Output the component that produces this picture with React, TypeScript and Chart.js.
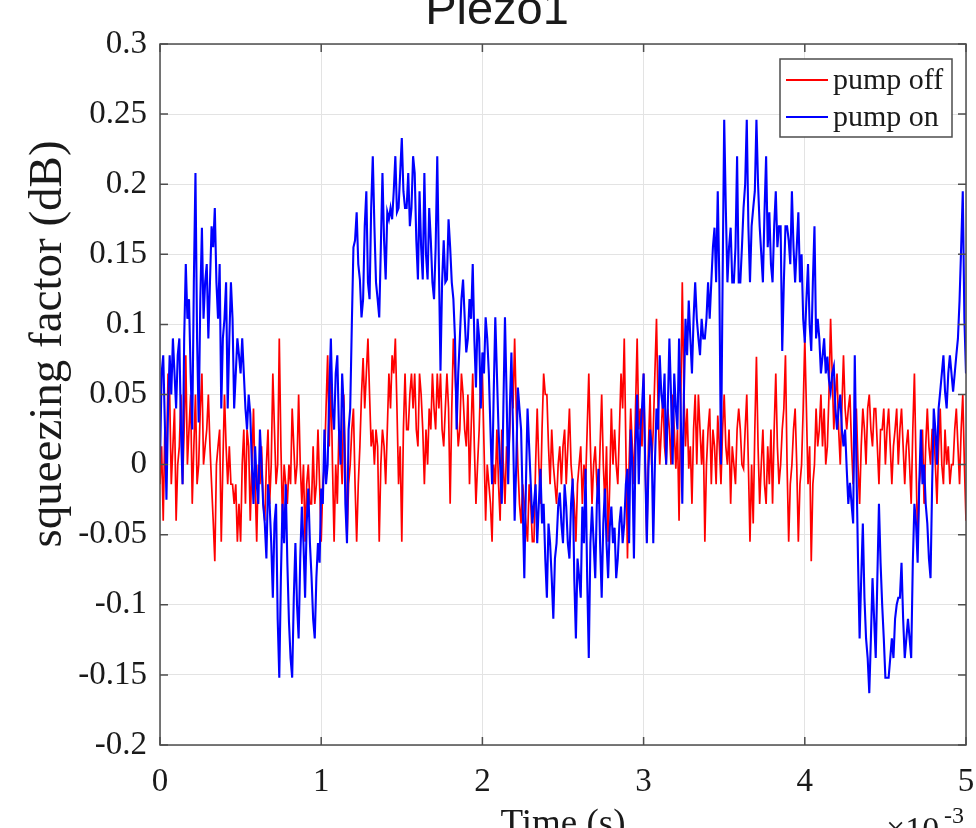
import React, { useEffect, useRef } from "react";
import { Chart, registerables } from "chart.js";

Chart.register(...registerables);

// ---- data (time in units of 10^-3 s, sampled every 0.01) ----
const T_START = 0;
const T_END = 5;
const X_TICKS = [0, 1, 2, 3, 4, 5];
const X_TICK_LABELS = ["0", "1", "2", "3", "4", "5"];
const Y_TICKS = [-0.2, -0.15, -0.1, -0.05, 0, 0.05, 0.1, 0.15, 0.2, 0.25, 0.3];
const Y_TICK_LABELS = ["-0.2", "-0.15", "-0.1", "-0.05", "0", "0.05", "0.1", "0.15", "0.2", "0.25", "0.3"];
const SERIES_LABELS = ["pump off", "pump on"];
const SERIES_COLORS = ["#ff0000", "#0000ff"];
const TITLE = "Piezo1";
const X_LABEL = "Time (s)";
const Y_LABEL = "squeezing factor (dB)";

const PUMP_OFF = [
  -0.014, 0.013, -0.04, 0.025, 0.0, 0.065, 0.05, -0.014, 0.013, 0.04, -0.04, 0.0, 0.013, 0.05, -0.014, 0.025, 0.078, 0.0, 0.025, 0.05,
  -0.028, 0.013, 0.05, -0.014, 0.0, 0.04, 0.065, 0.0, 0.013, 0.025, 0.05, 0.013, -0.014, -0.04, -0.069, 0.0, 0.013, 0.025, -0.055, 0.0,
  0.05, 0.013, -0.014, 0.013, -0.014, -0.014, -0.028, -0.014, -0.055, -0.028, -0.055, 0.0, 0.025, -0.028, 0.025, 0.013, -0.04, 0.0, 0.04, -0.014,
  -0.055, 0.0, -0.014, 0.013, -0.028, -0.04, 0.0, 0.025, -0.028, 0.0, 0.065, 0.025, -0.014, 0.0, 0.09, 0.013, -0.04, 0.0, -0.014, -0.028,
  0.0, -0.014, 0.04, 0.013, -0.014, 0.0, 0.05, 0.0, -0.028, 0.0, -0.055, -0.014, 0.0, -0.028, -0.028, 0.013, -0.028, -0.014, 0.025, -0.014,
  -0.055, -0.014, 0.0, 0.04, 0.078, 0.013, 0.065, 0.0, -0.055, 0.0, -0.028, 0.025, 0.013, -0.014, 0.05, 0.0, -0.055, -0.014, 0.0, 0.025,
  0.04, -0.014, -0.055, -0.014, 0.013, 0.05, 0.076, 0.04, 0.065, 0.09, 0.05, 0.013, 0.025, 0.0, 0.025, 0.013, -0.055, 0.0, 0.025, 0.013,
  -0.014, 0.025, 0.065, 0.04, 0.078, 0.065, 0.09, 0.04, -0.014, 0.013, -0.055, 0.025, 0.065, 0.025, 0.025, 0.05, 0.065, 0.04, 0.065, 0.025,
  0.013, 0.065, 0.05, 0.025, -0.014, 0.025, 0.0, 0.04, 0.025, 0.065, 0.04, 0.025, 0.065, 0.04, 0.065, 0.025, 0.013, 0.04, 0.065, 0.04,
  -0.028, 0.04, 0.09, 0.065, 0.04, 0.013, 0.025, 0.065, 0.05, 0.025, 0.013, 0.05, -0.014, 0.025, 0.065, 0.013, -0.028, 0.0, 0.025, 0.065,
  0.065, 0.013, -0.04, 0.0, -0.014, -0.028, -0.055, 0.0, -0.014, 0.025, -0.014, -0.04, 0.025, 0.0, -0.028, 0.013, 0.0, 0.025, 0.065, 0.04,
  0.09, 0.04, 0.0, -0.028, -0.042, -0.014, -0.028, -0.042, -0.055, -0.014, -0.028, -0.055, -0.055, 0.0, 0.04, 0.0, -0.028, 0.025, 0.065, 0.05,
  0.05, 0.013, -0.014, 0.025, 0.0, -0.014, -0.028, 0.0, 0.013, -0.014, 0.013, 0.025, -0.014, 0.013, 0.04, 0.0, -0.014, -0.028, -0.055, -0.014,
  0.0, 0.013, -0.028, 0.0, -0.014, 0.025, 0.065, 0.013, -0.028, 0.0, 0.013, -0.014, -0.028, 0.013, 0.05, 0.0, -0.028, 0.013, -0.055, -0.014,
  0.04, 0.0, 0.025, 0.0, -0.014, 0.025, 0.065, 0.04, 0.09, 0.013, -0.067, 0.0, 0.04, 0.013, -0.014, 0.04, 0.09, 0.025, 0.04, 0.013,
  0.065, 0.0, -0.055, 0.013, 0.05, 0.0, 0.025, 0.065, 0.104, 0.04, 0.0, 0.025, 0.05, 0.013, 0.0, 0.04, 0.025, 0.0, 0.05, 0.025,
  -0.003, 0.025, -0.04, 0.04, 0.13, 0.05, 0.013, 0.04, -0.003, 0.013, -0.028, 0.025, 0.05, 0.0, 0.05, 0.025, 0.0, 0.025, -0.055, 0.0,
  0.025, 0.04, -0.014, 0.025, 0.013, -0.014, 0.035, 0.013, -0.014, 0.025, 0.05, 0.013, 0.0, 0.025, -0.028, 0.013, 0.0, -0.014, 0.025, 0.04,
  0.025, 0.0, -0.003, 0.025, 0.05, 0.0, -0.055, 0.0, -0.042, 0.025, 0.077, 0.013, -0.028, 0.0, 0.025, -0.014, -0.028, 0.013, -0.014, 0.025,
  -0.028, 0.025, 0.065, 0.013, -0.014, 0.0, 0.025, 0.04, 0.078, 0.0, -0.055, -0.014, 0.0, 0.025, 0.04, 0.0, -0.055, -0.014, 0.0, 0.04,
  0.09, 0.04, -0.014, 0.013, -0.069, -0.014, 0.0, 0.04, 0.013, 0.025, 0.05, 0.013, 0.04, 0.0, 0.013, 0.05, 0.104, 0.065, 0.025, 0.05,
  0.065, 0.025, 0.0, 0.04, 0.078, 0.04, 0.025, 0.04, 0.05, 0.013, -0.014, 0.025, 0.04, 0.0, -0.028, 0.013, 0.04, 0.025, 0.0, 0.04,
  0.05, 0.025, 0.013, 0.04, 0.04, 0.013, -0.014, 0.025, 0.025, 0.04, 0.0, 0.025, 0.04, 0.013, -0.014, 0.013, 0.025, 0.04, 0.0, 0.025,
  0.04, 0.013, -0.014, 0.013, 0.025, 0.0, -0.028, 0.025, 0.065, 0.0, -0.055, -0.014, 0.0, 0.025, -0.028, 0.013, 0.04, 0.013, 0.0, 0.025,
  0.025, 0.0, -0.028, 0.013, 0.04, 0.0, -0.014, 0.025, 0.0, 0.013, -0.014, 0.0, 0.0, 0.025, 0.04, 0.013, -0.014, 0.025, 0.05, 0.0,
  -0.04,
];

const PUMP_ON = [
  0.0, 0.065, 0.078, 0.03, -0.025, 0.04, 0.078, 0.05, 0.09, 0.065, 0.04, 0.078, 0.09, 0.025, -0.014, 0.09, 0.143, 0.104, 0.118, 0.065,
  0.025, 0.13, 0.208, 0.09, 0.03, 0.118, 0.169, 0.104, 0.13, 0.143, 0.09, 0.13, 0.17, 0.155, 0.183, 0.13, 0.104, 0.143, 0.04, 0.09,
  0.104, 0.13, 0.04, 0.09, 0.13, 0.104, 0.04, 0.065, 0.09, 0.078, 0.065, 0.09, 0.065, 0.04, 0.025, 0.05, 0.036, 0.0, -0.028, 0.013,
  -0.014, -0.028, 0.025, 0.0, -0.028, -0.042, -0.067, -0.014, -0.028, -0.056, -0.095, -0.042, -0.028, -0.11, -0.152, -0.08, -0.028, -0.056, -0.014, -0.07,
  -0.112, -0.138, -0.152, -0.095, -0.056, -0.1, -0.124, -0.067, -0.03, -0.056, -0.095, -0.042, -0.017, -0.056, -0.08, -0.11, -0.124, -0.081, -0.056, -0.07,
  -0.017, -0.028, 0.025, -0.014, 0.0, 0.05, 0.09, 0.04, 0.025, 0.065, 0.078, 0.025, 0.0, 0.065, 0.04, -0.028, -0.056, 0.025, 0.04, 0.1,
  0.155, 0.16, 0.18, 0.143, 0.132, 0.105, 0.118, 0.17, 0.195, 0.13, 0.118, 0.183, 0.22, 0.17, 0.13, 0.118, 0.105, 0.155, 0.208, 0.16,
  0.132, 0.18, 0.175, 0.183, 0.175, 0.195, 0.22, 0.18, 0.183, 0.208, 0.233, 0.195, 0.183, 0.183, 0.208, 0.17, 0.183, 0.22, 0.208, 0.16,
  0.132, 0.195, 0.155, 0.132, 0.208, 0.15, 0.132, 0.183, 0.16, 0.13, 0.118, 0.155, 0.22, 0.143, 0.067, 0.13, 0.16, 0.13, 0.132, 0.175,
  0.155, 0.13, 0.118, 0.09, 0.025, 0.065, 0.09, 0.118, 0.132, 0.105, 0.08, 0.09, 0.118, 0.104, 0.143, 0.09, 0.055, 0.104, 0.09, 0.04,
  0.08, 0.065, 0.105, 0.09, 0.065, 0.025, -0.014, 0.05, 0.105, 0.065, 0.025, 0.0, -0.028, 0.04, 0.105, 0.05, -0.014, 0.04, 0.08, 0.025,
  -0.04, 0.0, 0.055, 0.04, 0.025, -0.028, -0.081, -0.014, 0.04, 0.013, -0.014, -0.042, -0.028, -0.014, -0.056, -0.028, -0.003, -0.042, -0.028, -0.067,
  -0.095, -0.042, -0.056, -0.081, -0.11, -0.067, -0.056, -0.03, -0.02, -0.042, -0.056, -0.014, -0.03, -0.056, -0.067, -0.028, -0.01, -0.081, -0.124, -0.067,
  -0.08, -0.095, -0.03, -0.056, -0.003, -0.081, -0.138, -0.056, -0.03, -0.056, -0.081, -0.028, -0.003, -0.056, -0.095, -0.042, -0.017, -0.056, -0.081, -0.045,
  -0.03, -0.056, -0.045, -0.081, -0.067, -0.042, -0.03, -0.056, -0.042, -0.014, -0.003, -0.056, 0.025, 0.0, -0.067, 0.013, 0.05, -0.014, 0.025, 0.04,
  0.065, 0.0, -0.056, -0.003, 0.025, 0.013, -0.056, 0.0, 0.04, 0.025, 0.078, 0.05, 0.04, 0.065, 0.0, 0.04, 0.09, 0.05, 0.0, 0.065,
  0.04, 0.025, 0.09, 0.04, -0.028, 0.05, 0.104, 0.078, 0.117, 0.09, 0.065, 0.104, 0.13, 0.104, 0.09, 0.078, 0.104, 0.09, 0.09, 0.104,
  0.13, 0.104, 0.13, 0.155, 0.169, 0.13, 0.195, 0.13, 0.0, 0.13, 0.246, 0.183, 0.13, 0.155, 0.169, 0.13, 0.13, 0.155, 0.22, 0.13,
  0.13, 0.155, 0.183, 0.2, 0.246, 0.17, 0.13, 0.17, 0.183, 0.195, 0.246, 0.2, 0.17, 0.15, 0.13, 0.18, 0.22, 0.155, 0.18, 0.143,
  0.13, 0.17, 0.195, 0.155, 0.17, 0.17, 0.081, 0.13, 0.17, 0.17, 0.16, 0.143, 0.195, 0.155, 0.13, 0.155, 0.18, 0.13, 0.15, 0.104,
  0.087, 0.118, 0.143, 0.1, 0.081, 0.13, 0.17, 0.09, 0.104, 0.09, 0.065, 0.077, 0.09, 0.065, 0.077, 0.06, 0.052, 0.065, 0.07, 0.04,
  0.025, 0.04, 0.05, 0.025, 0.013, 0.025, -0.003, -0.028, -0.013, -0.028, -0.042, 0.078, 0.0, -0.067, -0.124, -0.081, -0.042, -0.095, -0.124, -0.138,
  -0.163, -0.124, -0.081, -0.11, -0.138, -0.081, -0.028, -0.07, -0.1, -0.124, -0.152, -0.152, -0.152, -0.138, -0.124, -0.138, -0.11, -0.1, -0.095, -0.095,
  -0.07, -0.11, -0.138, -0.124, -0.11, -0.124, -0.138, -0.07, -0.028, -0.042, -0.07, -0.014, 0.025, -0.014, 0.0, -0.028, -0.042, -0.067, -0.081, -0.014,
  0.04, 0.025, 0.0, 0.04, 0.052, 0.065, 0.078, 0.052, 0.04, 0.065, 0.078, 0.065, 0.052, 0.065, 0.078, 0.09, 0.117, 0.155, 0.195, 0.104,
  0.065,
];

const SERIES_VALUES = [PUMP_OFF, PUMP_ON];
const SERIES_WIDTHS = [1.7, 2.1];

function toPoints(values: number[]) {
  const dt = (T_END - T_START) / (values.length - 1);
  return values.map((v, i) => ({ x: T_START + i * dt, y: v }));
}

const SERIF = "'Liberation Serif', 'Times New Roman', serif";
const SANS = "'Liberation Sans', Arial, sans-serif";
const TEXT = "#1a1a1a";
const AXIS = "#4d4d4d";
const W = 976;
const H = 828;

const decorations = {
  id: "matlabDecorations",
  afterDraw(chart: any) {
    const { ctx, chartArea: a, scales } = chart;
    const xs = scales.x;
    const ys = scales.y;
    ctx.save();

    // axes box
    ctx.strokeStyle = AXIS;
    ctx.lineWidth = 1.5;
    ctx.strokeRect(a.left, a.top, a.right - a.left, a.bottom - a.top);

    // inward ticks on all four sides
    const TL = 8;
    ctx.beginPath();
    X_TICKS.forEach((v) => {
      const px = xs.getPixelForValue(v);
      ctx.moveTo(px, a.bottom);
      ctx.lineTo(px, a.bottom - TL);
      ctx.moveTo(px, a.top);
      ctx.lineTo(px, a.top + TL);
    });
    Y_TICKS.forEach((v) => {
      const py = ys.getPixelForValue(v);
      ctx.moveTo(a.left, py);
      ctx.lineTo(a.left + TL, py);
      ctx.moveTo(a.right, py);
      ctx.lineTo(a.right - TL, py);
    });
    ctx.stroke();

    // legend
    const lw = 172;
    const lh = 78;
    const lx = a.right - 14 - lw;
    const ly = a.top + 15;
    ctx.fillStyle = "#ffffff";
    ctx.fillRect(lx, ly, lw, lh);
    ctx.strokeStyle = AXIS;
    ctx.lineWidth = 1.5;
    ctx.strokeRect(lx, ly, lw, lh);
    ctx.font = `30px ${SERIF}`;
    ctx.textAlign = "left";
    ctx.textBaseline = "middle";
    chart.data.datasets.forEach((ds: any, i: number) => {
      const yy = ly + 21 + i * 37;
      ctx.strokeStyle = ds.borderColor;
      ctx.lineWidth = 1.8;
      ctx.beginPath();
      ctx.moveTo(lx + 6, yy);
      ctx.lineTo(lx + 48, yy);
      ctx.stroke();
      ctx.fillStyle = TEXT;
      ctx.fillText(ds.label, lx + 53, yy + 1);
    });

    // title (partly clipped at the top, as in the reference)
    ctx.fillStyle = TEXT;
    ctx.font = `47px ${SANS}`;
    ctx.textAlign = "center";
    ctx.textBaseline = "alphabetic";
    ctx.fillText(TITLE, 497, 24);

    // x label
    ctx.font = `37px ${SERIF}`;
    ctx.textAlign = "center";
    ctx.fillText(X_LABEL, (a.left + a.right) / 2, 835);

    // exponent marker
    ctx.font = `34px ${SERIF}`;
    ctx.textAlign = "left";
    ctx.fillText("\u00d710", 886, 840);
    ctx.font = `24px ${SERIF}`;
    ctx.fillText("-3", 944, 823);

    // y label
    ctx.save();
    ctx.translate(49, 344);
    ctx.rotate(-Math.PI / 2);
    ctx.font = `47px ${SERIF}`;
    ctx.textAlign = "center";
    ctx.textBaseline = "middle";
    ctx.fillText(Y_LABEL, 0, 0);
    ctx.restore();

    ctx.restore();
  },
};

export default function App() {
  const canvasRef = useRef<HTMLCanvasElement | null>(null);

  useEffect(() => {
    const canvas = canvasRef.current;
    if (!canvas) return;
    document.body.style.margin = "0";
    document.body.style.overflow = "hidden";
    const chart = new Chart(canvas, {
      type: "line",
      data: {
        datasets: SERIES_VALUES.map((vals, i) => ({
          label: SERIES_LABELS[i],
          data: toPoints(vals),
          borderColor: SERIES_COLORS[i],
          backgroundColor: SERIES_COLORS[i],
          borderWidth: SERIES_WIDTHS[i],
          pointRadius: 0,
          tension: 0,
          fill: false,
          order: i === 1 ? 1 : 2,
        })),
      },
      options: {
        animation: false,
        responsive: false,
        devicePixelRatio: 1,
        parsing: false as any,
        normalized: true,
        layout: { padding: { top: 44, right: 10, left: 0, bottom: 0 } },
        plugins: {
          legend: { display: false },
          title: { display: false },
          tooltip: { enabled: false },
        },
        scales: {
          x: {
            type: "linear",
            min: T_START,
            max: T_END,
            afterBuildTicks: (scale: any) => {
              scale.ticks = X_TICKS.map((v) => ({ value: v }));
            },
            afterFit: (scale: any) => {
              scale.height = 83;
              scale.paddingLeft = 0;
              scale.paddingRight = 0;
            },
            ticks: {
              autoSkip: false,
              maxRotation: 0,
              padding: 18,
              color: TEXT,
              font: { family: SERIF, size: 33 },
              callback: (_v: any, idx: number) => X_TICK_LABELS[idx],
            },
            grid: { color: "#e3e3e3", lineWidth: 1, drawTicks: false },
            border: { display: false },
          },
          y: {
            type: "linear",
            min: -0.2,
            max: 0.3,
            afterBuildTicks: (scale: any) => {
              scale.ticks = Y_TICKS.map((v) => ({ value: v }));
            },
            afterFit: (scale: any) => {
              scale.width = 160;
              scale.paddingTop = 0;
              scale.paddingBottom = 0;
            },
            ticks: {
              autoSkip: false,
              padding: 13,
              color: TEXT,
              font: { family: SERIF, size: 33 },
              callback: (_v: any, idx: number) => Y_TICK_LABELS[idx],
            },
            grid: { color: "#e3e3e3", lineWidth: 1, drawTicks: false },
            border: { display: false },
          },
        },
      },
      plugins: [decorations],
    });
    return () => chart.destroy();
  }, []);

  return (
    <div style={{ position: "fixed", left: 0, top: 0, width: W, height: H, overflow: "hidden", background: "#ffffff" }}>
      <canvas ref={canvasRef} width={W} height={H} style={{ display: "block", width: W, height: H }} />
    </div>
  );
}
